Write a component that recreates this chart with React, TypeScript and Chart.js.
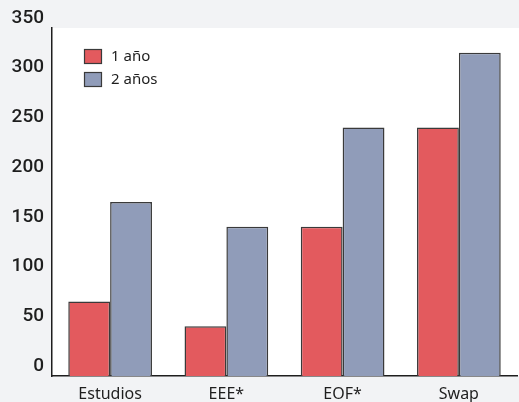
import React, { useEffect, useRef } from "react";
import { Chart, registerables } from "chart.js";

Chart.register(...registerables);

const categories = ["Estudios", "EEE*", "EOF*", "Swap"];
const seriesNames = ["1 año", "2 años"];
const oneYear = [75, 50, 150, 250];
const twoYears = [175, 150, 250, 325];
const yTicks = [0, 50, 100, 150, 200, 250, 300, 350];

const RED = "#e35a5e";
const BLUE = "#909cb9";
const EDGE = "#3a3a3a";

const plotBg = {
  id: "plotBg",
  beforeDraw(chart: any) {
    const { ctx, chartArea: a } = chart;
    ctx.save();
    ctx.fillStyle = "#ffffff";
    ctx.fillRect(a.left, a.top, a.right - a.left + 2, a.bottom - a.top);
    ctx.restore();
  },
};

const innerLegend = {
  id: "innerLegend",
  afterDraw(chart: any) {
    const { ctx, chartArea: a } = chart;
    ctx.save();
    const x0 = a.left + 32;
    let y0 = a.top + 21;
    chart.data.datasets.forEach((ds: any) => {
      ctx.fillStyle = ds.backgroundColor;
      ctx.fillRect(x0, y0, 18, 15);
      ctx.strokeStyle = EDGE;
      ctx.lineWidth = 1.2;
      ctx.strokeRect(x0 + 0.5, y0 + 0.5, 17, 14);
      ctx.fillStyle = "#1e1e1e";
      ctx.font = "15px 'Noto Sans'";
      ctx.textBaseline = "middle";
      ctx.textAlign = "left";
      ctx.fillText(ds.label, x0 + 27, y0 + 7.5);
      y0 += 23;
    });
    ctx.restore();
  },
};

export default function App() {
  const ref = useRef<HTMLCanvasElement>(null);
  useEffect(() => {
    if (!ref.current) return;
    const chart = new Chart(ref.current, {
      type: "bar",
      data: {
        labels: categories,
        datasets: [
          {
            label: seriesNames[0],
            data: oneYear,
            backgroundColor: RED,
            borderColor: EDGE,
            borderWidth: 1.5,
          },
          {
            label: seriesNames[1],
            data: twoYears,
            backgroundColor: BLUE,
            borderColor: EDGE,
            borderWidth: 1.5,
          },
        ],
      },
      options: {
        animation: false,
        responsive: false,
        maintainAspectRatio: false,
        datasets: { bar: { barPercentage: 1, categoryPercentage: 0.72 } },
        layout: { padding: { top: 28, right: 2, left: 0, bottom: 0 } },
        plugins: {
          legend: { display: false },
          tooltip: { enabled: false },
        },
        scales: {
          x: {
            grid: { display: false, drawTicks: false },
            border: { display: true, color: "#1e1e1e", width: 1.5 },
            ticks: {
              color: "#1e1e1e",
              font: { family: "'Noto Sans'", size: 16 },
              padding: 9,
            },
            afterFit(scale: any) {
              scale.height = 26;
            },
          },
          y: {
            min: 0,
            max: 350,
            grid: { display: false, drawTicks: false },
            border: { display: true, color: "#1e1e1e", width: 1.5 },
            afterBuildTicks(scale: any) {
              scale.ticks = yTicks.map((v) => ({ value: v }));
            },
            ticks: {
              color: "#1e1e1e",
              font: { family: "Roboto", size: 19, weight: "500" },
              padding: 8,
              labelOffset: -10,
            },
            afterFit(scale: any) {
              scale.width = 52;
            },
          },
        },
      },
      plugins: [plotBg, innerLegend],
    });
    return () => chart.destroy();
  }, []);
  return (
    <div
      style={{
        position: "fixed",
        left: 0,
        top: 0,
        width: 519,
        height: 402,
        background: "#f2f3f5",
      }}
    >
      <canvas ref={ref} width={519} height={402} style={{ display: "block" }} />
    </div>
  );
}
